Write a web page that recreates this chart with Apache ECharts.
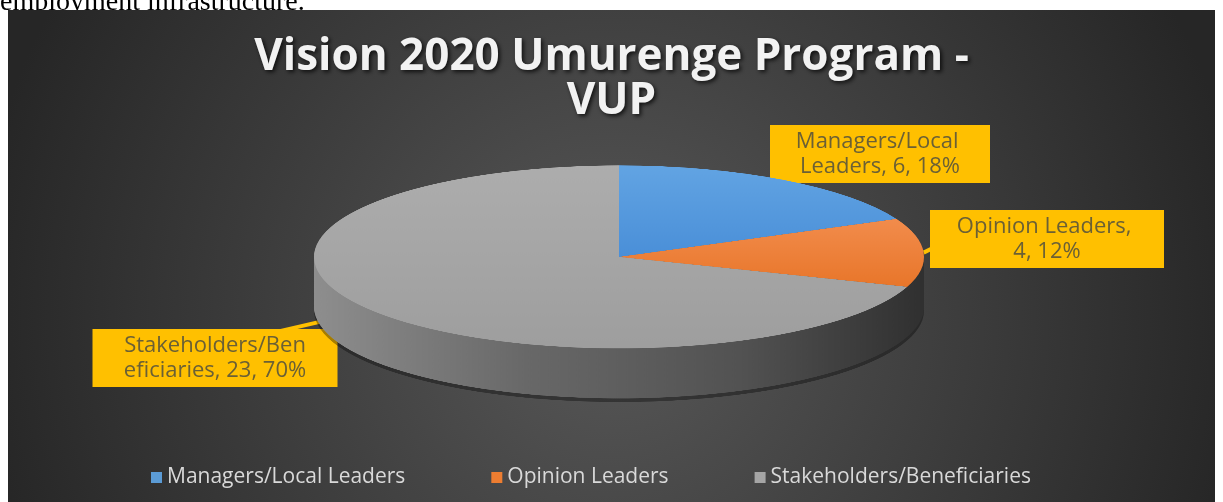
<!DOCTYPE html>
<html>
<head>
<meta charset="utf-8">
<title>Vision 2020 Umurenge Program - VUP</title>
<script src="https://cdn.jsdelivr.net/npm/echarts@6/dist/echarts.min.js"></script>
<style>
  html, body { margin: 0; padding: 0; background: #fff; }
  #wrap { position: relative; width: 1223px; height: 502px; overflow: hidden; }
  #main { position: absolute; left: 0; top: 0; width: 1223px; height: 502px; }
  #pie {
    position: absolute; left: 0; width: 1223px; height: 820px;
    transform-origin: 0 0; pointer-events: none;
  }
</style>
</head>
<body>
<div id="wrap">
  <div id="main"></div>
  <div id="pie"></div>
</div>
<script>
// data
const names = ['Managers/Local Leaders', 'Opinion Leaders', 'Stakeholders/Beneficiaries']
const values = [6, 4, 23]

// look
const colors = ['#5b9bd5', '#ed7d31', '#a5a5a5']
const topFaces = [
  ['#62a4e3', '#4a8fd8'],
  ['#f28c4c', '#e8762a'],
  ['#adadad', '#9e9e9e']
]

// pie geometry (screen px): a flat 3D disc made of squashed pies
const PIE_CX = 619
const PIE_CY = 257
const PIE_R = 305
const SQUISH = 0.3
const DEPTH = 50
const CY0 = PIE_R + 8                 // centre inside the unsquashed pie canvas
const depthU = DEPTH / SQUISH

const pieDiv = document.getElementById('pie')
pieDiv.style.top = (PIE_CY - CY0 * SQUISH) + 'px'
pieDiv.style.transform = 'scaleY(' + SQUISH + ')'

function pieLayer(offset, itemStyle, perSlice) {
  return {
    type: 'pie',
    center: [PIE_CX, CY0 + offset],
    radius: PIE_R,
    silent: true,
    animation: false,
    label: { show: false },
    labelLine: { show: false },
    itemStyle: itemStyle,
    data: names.map((n, i) => {
      const item = { name: n, value: values[i] }
      if (perSlice) {
        item.itemStyle = {
          color: new echarts.graphic.LinearGradient(0, 0, 0, 1, [
            { offset: 0, color: topFaces[i][0] },
            { offset: 1, color: topFaces[i][1] }
          ])
        }
      }
      return item
    })
  }
}

const sideFill = new echarts.graphic.LinearGradient(PIE_CX - PIE_R, 0, PIE_CX + PIE_R, 0, [
  { offset: 0, color: '#8e8e8e' },
  { offset: 0.35, color: '#686868' },
  { offset: 0.7, color: '#525252' },
  { offset: 1, color: '#303030' }
], true)

const layers = []
layers.push(pieLayer(depthU + 12, { color: 'rgba(0,0,0,0.35)' }))
for (let d = depthU; d > 0; d -= 4) {
  layers.push(pieLayer(d, { color: sideFill }))
}
layers.push(pieLayer(0, {}, true))

const pieChart = echarts.init(pieDiv)
pieChart.setOption({ animation: false, series: layers })

// callout boxes (layout only)
const labelBoxes = [
  { cx: 880, top: 125, ax: 0.06, ay: 0.85 },
  { cx: 1047, top: 210, ax: 0.04, ay: 0.6 },
  { cx: 215, top: 329, ax: 0.72, ay: 0.08 }
]
const labelWraps = [
  { width: 200, overflow: 'break', padding: [4, 10] },
  { width: 190, overflow: 'break', padding: [4, 22] },
  { width: 187, overflow: 'breakAll', padding: [4, 29] }
]

const mainChart = echarts.init(document.getElementById('main'))
mainChart.setOption({
  backgroundColor: '#ffffff',
  animation: false,
  graphic: [
    {
      type: 'text',
      z: 0,
      style: {
        text: 'employment infrastructure.',
        x: 0,
        y: 17,
        fill: '#000',
        fontFamily: 'Liberation Serif',
        fontSize: 28,
        verticalAlign: 'bottom'
      }
    },
    {
      type: 'rect',
      z: 1,
      shape: { x: 8, y: 10, width: 1207, height: 492 },
      style: {
        fill: new echarts.graphic.RadialGradient(0.5, 0.62, 1.3, [
          { offset: 0, color: '#585858' },
          { offset: 1, color: '#262626' }
        ])
      }
    }
  ],
  title: {
    text: 'Vision 2020 Umurenge Program -\nVUP',
    left: 'center',
    top: 30,
    padding: [5, 5, 5, 19],
    textStyle: {
      color: '#f2f2f2',
      fontFamily: 'Open Sans',
      fontWeight: 'bold',
      fontSize: 44,
      lineHeight: 44,
      textShadowColor: 'rgba(0,0,0,0.75)',
      textShadowBlur: 4,
      textShadowOffsetX: 2,
      textShadowOffsetY: 2
    }
  },
  legend: {
    top: 462,
    left: 146,
    padding: 5,
    icon: 'rect',
    itemWidth: 11,
    itemHeight: 11,
    itemGap: 86,
    selectedMode: false,
    textStyle: { color: '#d9d9d9', fontFamily: 'Open Sans', fontSize: 21 },
    data: names.map((n, i) => ({ name: n, itemStyle: { color: colors[i] } }))
  },
  series: [
    {
      type: 'pie',
      center: [PIE_CX, PIE_CY],
      radius: PIE_R,
      silent: true,
      avoidLabelOverlap: false,
      percentPrecision: 0,
      itemStyle: { color: 'transparent' },
      label: {
        show: true,
        position: 'outside',
        formatter: '{b}, {c}, {d}%',
        color: '#6b6035',
        fontFamily: 'Open Sans',
        fontSize: 22,
        lineHeight: 25,
        backgroundColor: '#ffc000'
      },
      labelLine: {
        show: true,
        length: 6,
        length2: 6,
        lineStyle: { color: '#ffc000', width: 4 }
      },
      labelLayout: function (p) {
        const box = labelBoxes[p.dataIndex]
        const p0 = p.labelLinePoints[0]
        const tip = [p0[0], PIE_CY + (p0[1] - PIE_CY) * SQUISH]
        const w = p.labelRect.width
        const h = p.labelRect.height
        const attach = [box.cx - w / 2 + box.ax * w, box.top + box.ay * h]
        return {
          x: box.cx,
          y: box.top,
          align: 'center',
          verticalAlign: 'top',
          labelLinePoints: [tip, attach, attach]
        }
      },
      data: names.map((n, i) => ({
        name: n,
        value: values[i],
        label: labelWraps[i]
      }))
    }
  ]
})
</script>
</body>
</html>
